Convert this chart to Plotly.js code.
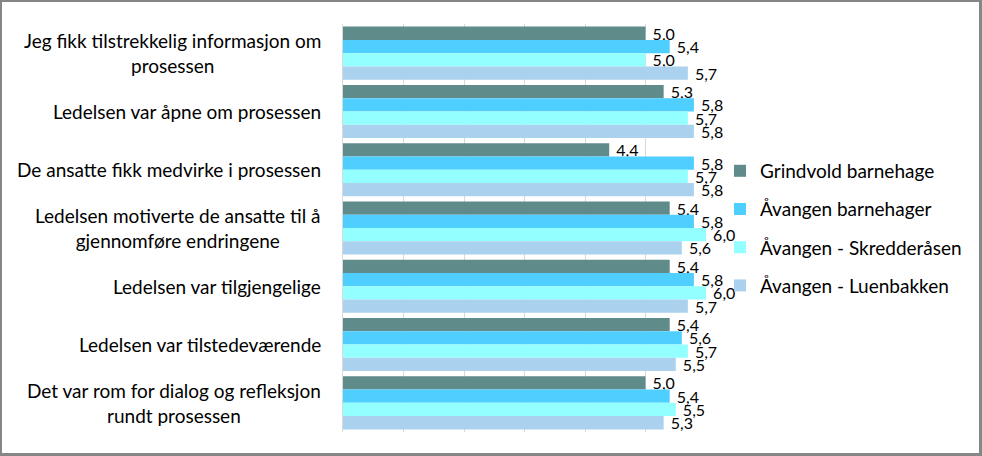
<!DOCTYPE html>
<html>
<head>
<meta charset="utf-8">
<script src="https://cdn.plot.ly/plotly-3.0.1.min.js"></script>
<style>
html,body{margin:0;padding:0;background:#fff;}
#wrap{position:relative;width:982px;height:456px;}
#chart{width:982px;height:456px;}
#frame{position:absolute;left:0;top:0;width:982px;height:456px;box-sizing:border-box;
 border-top:2px solid #868686;border-left:2px solid #868686;border-right:3px solid #868686;border-bottom:3px solid #868686;pointer-events:none;}
</style>
</head>
<body>
<div id="wrap"><div id="chart"></div><div id="frame"></div></div>
<script>
const categories = [
  "Jeg fikk tilstrekkelig informasjon om<br>prosessen",
  "Ledelsen var åpne om prosessen",
  "De ansatte fikk medvirke i prosessen",
  "Ledelsen motiverte de ansatte til å<br>gjennomføre endringene",
  "Ledelsen var tilgjengelige",
  "Ledelsen var tilstedeværende",
  "Det var rom for dialog og refleksjon<br>rundt prosessen"
];
const seriesNames = ["Grindvold barnehage", "Åvangen barnehager", "Åvangen - Skredderåsen", "Åvangen - Luenbakken"];
const grindvold   = [5.0, 5.3, 4.4, 5.4, 5.4, 5.4, 5.0];
const aaBarnehager = [5.4, 5.8, 5.8, 5.8, 5.8, 5.6, 5.4];
const skredderaasen = [5.0, 5.7, 5.7, 6.0, 6.0, 5.7, 5.5];
const luenbakken  = [5.7, 5.8, 5.8, 5.6, 5.7, 5.5, 5.3];
const seriesValues = [grindvold, aaBarnehager, skredderaasen, luenbakken];
const colors = ["#5F8B8B", "#4FCFFF", "#93FFFF", "#AAD2EE"];

const fmt = v => '\u00a0' + v.toFixed(1).replace('.', ',');
const FONT = "Lato, 'Open Sans', sans-serif";

const traces = seriesValues.map((vals, i) => ({
  type: 'bar',
  orientation: 'h',
  name: seriesNames[i],
  legendgroup: 'g' + i,
  x: vals,
  y: categories,
  marker: {color: colors[i], line: {width: 0}},
  text: vals.map(fmt),
  textposition: 'outside',
  textfont: {family: FONT, size: 16, color: '#000'},
  cliponaxis: false,
  constraintext: 'none',
  hoverinfo: 'x+y'
}));

const annotations = categories.map(c => ({
  xref: 'paper', yref: 'y',
  x: -20/363, y: c,
  xanchor: 'right', yanchor: 'middle',
  align: 'center',
  text: c,
  showarrow: false,
  font: {family: FONT, size: 19, color: '#000'}
}));

const layout = {
  width: 982, height: 456,
  margin: {l: 343, r: 276, t: 24, b: 24, pad: 0, autoexpand: false},
  paper_bgcolor: '#fff', plot_bgcolor: '#fff',
  barmode: 'group',
  bargap: 0.09,
  bargroupgap: 0,
  showlegend: true,
  legend: {
    xref: 'container', yref: 'container',
    x: 720/982, xanchor: 'left', y: 0.499, yanchor: 'middle',
    bgcolor: 'rgba(0,0,0,0)',
    font: {family: FONT, size: 19, color: '#000'},
    traceorder: 'grouped',
    tracegroupgap: 10.5,
    itemwidth: 30
  },
  xaxis: {
    range: [0, 6], dtick: 1, tick0: 0,
    showgrid: true, gridcolor: '#D9D9D9', gridwidth: 1,
    zeroline: false, showticklabels: false, showline: false, ticks: ''
  },
  yaxis: {
    type: 'category', autorange: 'reversed',
    showticklabels: false, showgrid: false, zeroline: false,
    showline: true, linecolor: '#D9D9D9', linewidth: 1, ticks: ''
  },
  annotations: annotations
};

Plotly.newPlot('chart', traces, layout, {displayModeBar: false, staticPlot: true});
</script>
</body>
</html>
